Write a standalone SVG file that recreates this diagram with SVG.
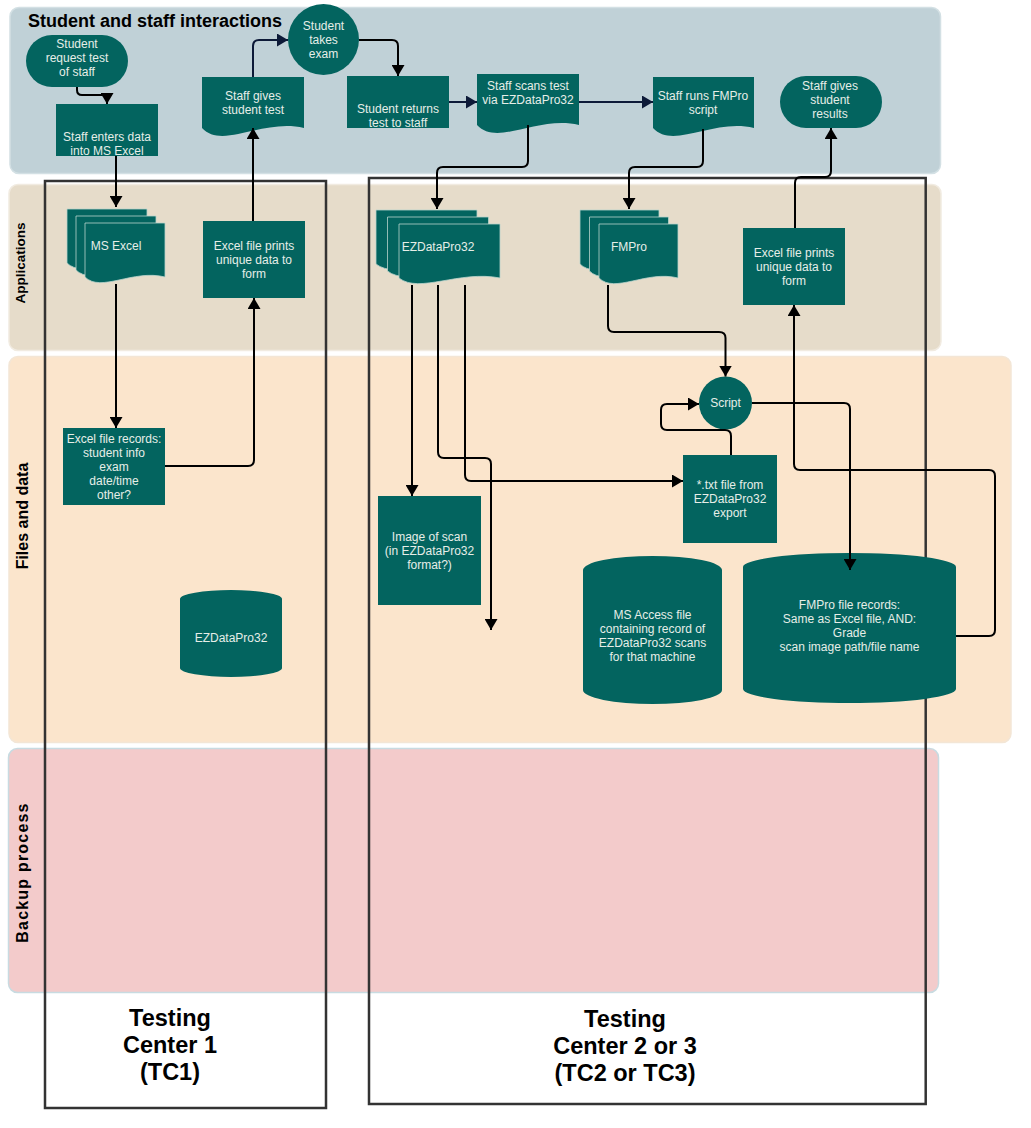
<svg xmlns="http://www.w3.org/2000/svg" width="1031" height="1128" viewBox="0 0 1031 1128">
<style>
.node{fill:#03645f}
.sheet{fill:#03645f;stroke:#b9d3cc;stroke-width:0.8}
.t{font-family:"Liberation Sans",Arial,sans-serif;font-size:12px;fill:#e6eee8;text-anchor:middle}
.lane-title{font-family:"Liberation Sans",Arial,sans-serif;font-weight:bold;fill:#000}
.tc{fill:none;stroke:#333;stroke-width:2.5}
.tclabel{font-family:"Liberation Sans",Arial,sans-serif;font-weight:bold;font-size:23.5px;fill:#000;text-anchor:middle}
.c{fill:none;stroke:#000;stroke-width:2;marker-end:url(#ah)}
.cn{fill:none;stroke:#0d1a38;stroke-width:2;marker-end:url(#ahn)}
</style>
<defs>
<marker id="ah" viewBox="0 0 11 13" refX="11" refY="6.5" markerWidth="11" markerHeight="13" markerUnits="userSpaceOnUse" orient="auto"><path d="M0,0 L11,6.5 L0,13 Z" fill="#000"/></marker>
<marker id="ahn" viewBox="0 0 11 13" refX="11" refY="6.5" markerWidth="11" markerHeight="13" markerUnits="userSpaceOnUse" orient="auto"><path d="M0,0 L11,6.5 L0,13 Z" fill="#0d1a38"/></marker>
</defs>
<rect width="1031" height="1128" fill="#fff"/>

<g id="lanes">
<rect x="10" y="7.5" width="930.5" height="166" rx="9" fill="#c0d1d7" stroke="#d3e0e4" stroke-width="1.5"/>
<rect x="9" y="184.5" width="932" height="166" rx="9" fill="#e6dcca" stroke="#f1ebe1" stroke-width="1.5"/>
<rect x="9" y="356.5" width="1002" height="386" rx="9" fill="#fbe5cc" stroke="#f3e6d6" stroke-width="1.5"/>
<rect x="8.5" y="748.5" width="930" height="244" rx="9" fill="#f3cbcb" stroke="#c8dbe1" stroke-width="1.5"/>
<text class="lane-title" x="28" y="27" font-size="18">Student and staff interactions</text>
<text class="lane-title" font-size="13.5" text-anchor="middle" transform="translate(25,263) rotate(-90)">Applications</text>
<text class="lane-title" font-size="16" text-anchor="middle" transform="translate(28.3,516) rotate(-90)">Files and data</text>
<text class="lane-title" font-size="16" letter-spacing="1.2" text-anchor="middle" transform="translate(27.5,872.5) rotate(-90)">Backup process</text>
</g>

<g id="testing-centers">
<rect class="tc" x="45" y="181" width="281" height="927"/>
<rect class="tc" x="369" y="178" width="556.7" height="926"/>
<text class="tclabel"><tspan x="170" y="1026">Testing</tspan><tspan x="170" y="1053">Center 1</tspan><tspan x="170" y="1080">(TC1)</tspan></text>
<text class="tclabel"><tspan x="625" y="1027">Testing</tspan><tspan x="625" y="1054">Center 2 or 3</tspan><tspan x="625" y="1081">(TC2 or TC3)</tspan></text>
</g>

<g id="n-student-request">
<rect class="node" x="26" y="35" width="102" height="52" rx="26"/>
<text class="t"><tspan x="77" y="48.3">Student</tspan><tspan x="77" y="62.3">request test</tspan><tspan x="77" y="76.3">of staff</tspan></text>
</g>
<g id="n-staff-enters">
<rect class="node" x="56" y="104" width="102" height="52"/>
<text class="t"><tspan x="107" y="141.3">Staff enters data</tspan><tspan x="107" y="155.3">into MS Excel</tspan></text>
</g>
<g id="n-staff-gives-test">
<path class="node" d="M202,77 H304 V128 C263.2,118 222.4,150 202,128 Z"/>
<text class="t"><tspan x="253" y="100.3">Staff gives</tspan><tspan x="253" y="113.6">student test</tspan></text>
</g>
<g id="n-student-takes">
<circle class="node" cx="323.5" cy="39.5" r="35.5"/>
<text class="t"><tspan x="323.5" y="30.3">Student</tspan><tspan x="323.5" y="44.1">takes</tspan><tspan x="323.5" y="57.9">exam</tspan></text>
</g>
<g id="n-student-returns">
<rect class="node" x="347" y="76" width="102" height="52"/>
<text class="t"><tspan x="398" y="113.3">Student returns</tspan><tspan x="398" y="127.3">test to staff</tspan></text>
</g>
<g id="n-staff-scans">
<path class="node" d="M477,74 H579 V125 C538.2,115 497.4,147 477,125 Z"/>
<text class="t"><tspan x="528" y="90.2">Staff scans test</tspan><tspan x="528" y="103.6">via EZDataPro32</tspan></text>
</g>
<g id="n-staff-runs">
<path class="node" d="M653,77 H754 V128 C713.6,118 673.2,150 653,128 Z"/>
<text class="t"><tspan x="703" y="100.2">Staff runs FMPro</tspan><tspan x="703" y="113.6">script</tspan></text>
</g>
<g id="n-staff-gives-results">
<rect class="node" x="780" y="76" width="102" height="52" rx="26"/>
<text class="t"><tspan x="830" y="90.2">Staff gives</tspan><tspan x="830" y="103.8">student</tspan><tspan x="830" y="117.6">results</tspan></text>
</g>

<g id="n-ms-excel">
<path class="sheet" d="M67,209 H147 V263 C115,255 83,279 67,263 Z"/>
<path class="sheet" d="M76,216 H156 V270 C124,262 92,286 76,270 Z"/>
<path class="sheet" d="M85,223 H165 V277 C133,269 101,293 85,277 Z"/>
<text class="t" x="116" y="250.3">MS Excel</text>
</g>
<g id="n-excel-prints-1">
<rect class="node" x="203" y="221" width="102" height="77"/>
<text class="t"><tspan x="254" y="250.3">Excel file prints</tspan><tspan x="254" y="264.3">unique data to</tspan><tspan x="254" y="278.3">form</tspan></text>
</g>
<g id="n-ezdatapro-app">
<path class="sheet" d="M376,210 H477 V264 C436.6,256 396.2,280 376,264 Z"/>
<path class="sheet" d="M387.5,217 H488.5 V271 C448.1,263 407.7,287 387.5,271 Z"/>
<path class="sheet" d="M399,224 H500 V278 C459.6,270 419.2,294 399,278 Z"/>
<text class="t" x="438" y="251.3">EZDataPro32</text>
</g>
<g id="n-fmpro-app">
<path class="sheet" d="M580,210 H659 V264 C627.4,256 595.8,280 580,264 Z"/>
<path class="sheet" d="M589.5,217 H668.5 V271 C636.9,263 605.3,287 589.5,271 Z"/>
<path class="sheet" d="M599,224 H678 V278 C646.4,270 614.8,294 599,278 Z"/>
<text class="t" x="629" y="251.3">FMPro</text>
</g>
<g id="n-excel-prints-2">
<rect class="node" x="743" y="228" width="102" height="77"/>
<text class="t"><tspan x="794" y="257.3">Excel file prints</tspan><tspan x="794" y="271.3">unique data to</tspan><tspan x="794" y="285.3">form</tspan></text>
</g>

<g id="n-excel-records">
<rect class="node" x="63" y="428" width="102" height="77"/>
<text class="t"><tspan x="114" y="443.3">Excel file records:</tspan><tspan x="114" y="457.3">student info</tspan><tspan x="114" y="471.3">exam</tspan><tspan x="114" y="485.3">date/time</tspan><tspan x="114" y="499.3">other?</tspan></text>
</g>
<g id="n-ezdatapro-db">
<path class="node" d="M180,599 A51,9 0 0 1 282,599 V668 A51,9 0 0 1 180,668 Z"/>
<text class="t" x="231" y="642.3">EZDataPro32</text>
</g>
<g id="n-script">
<circle class="node" cx="725.5" cy="403" r="26.5"/>
<text class="t" x="725.5" y="407.3">Script</text>
</g>
<g id="n-txt-file">
<rect class="node" x="683" y="455" width="94" height="88"/>
<text class="t"><tspan x="730" y="489.3">*.txt file from</tspan><tspan x="730" y="503.3">EZDataPro32</tspan><tspan x="730" y="517.3">export</tspan></text>
</g>
<g id="n-image-scan">
<rect class="node" x="378" y="496" width="103" height="109"/>
<text class="t"><tspan x="429.5" y="541.3">Image of scan</tspan><tspan x="429.5" y="555.3">(in EZDataPro32</tspan><tspan x="429.5" y="569.3">format?)</tspan></text>
</g>
<g id="n-ms-access">
<path class="node" d="M583,570 A69.5,14 0 0 1 722,570 V690 A69.5,14 0 0 1 583,690 Z"/>
<text class="t"><tspan x="652.5" y="619.3">MS Access file</tspan><tspan x="652.5" y="633.1">containing record of</tspan><tspan x="652.5" y="647">EZDataPro32 scans</tspan><tspan x="652.5" y="661">for that machine</tspan></text>
</g>
<g id="n-fmpro-records">
<path class="node" d="M743,567 A106.5,14 0 0 1 956,567 V689 A106.5,14 0 0 1 743,689 Z"/>
<text class="t"><tspan x="849.5" y="609.3">FMPro file records:</tspan><tspan x="849.5" y="623.1">Same as Excel file, AND:</tspan><tspan x="849.5" y="637">Grade</tspan><tspan x="849.5" y="651">scan image path/file name</tspan></text>
</g>

<g id="connectors">
<path class="c" d="M77,87 V90 Q77,95 82,95 H102 Q107,95 107,100 V104"/>
<path class="c" d="M116,156 V207"/>
<path class="c" d="M116,284 V428"/>
<path class="c" d="M165,466 H248 Q254,466 254,460 V298"/>
<path class="c" d="M253,221 V128"/>
<path class="cn" d="M253,77 V46 Q253,40 259,40 H288"/>
<path class="c" d="M359,40 H392 Q398,40 398,46 V76"/>
<path class="cn" d="M449,102 H477"/>
<path class="cn" d="M579,102 H653"/>
<path class="c" d="M528,125 V161 Q528,167 522,167 H443 Q437,167 437,173 V209"/>
<path class="c" d="M703,129 V161 Q703,167 697,167 H635 Q629,167 629,173 V209"/>
<path class="c" d="M795,228 V183 Q795,177 801,177 H825 Q831,177 831,171 V128"/>
<path class="c" d="M412,285 V496"/>
<path class="c" d="M438,285 V452 Q438,458 444,458 H485 Q491,458 491,464 V630"/>
<path class="c" d="M465,285 V475 Q465,481 471,481 H683"/>
<path class="c" d="M608,285 V326 Q608,332 614,332 H719 Q725.5,332 725.5,338 V376.5"/>
<path class="c" d="M731,455 V436 Q731,430 725,430 H667 Q661,430 661,424 V410 Q661,404 667,404 H699"/>
<path class="c" d="M752,403 H844 Q850,403 850,409 V570"/>
<path class="c" d="M956,636 H989 Q995,636 995,630 V476 Q995,470 989,470 H800 Q794,470 794,464 V305"/>
</g>
</svg>
